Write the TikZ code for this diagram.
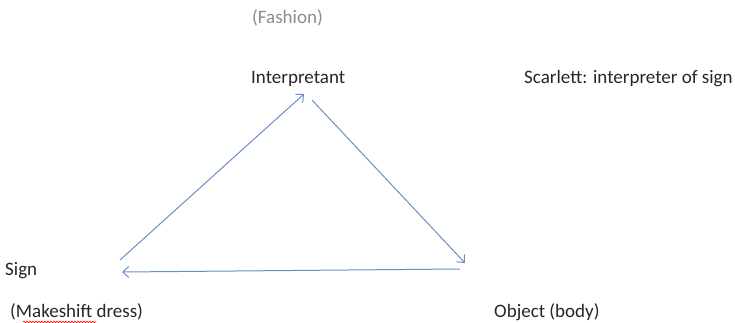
\documentclass[tikz,border=0pt]{standalone}
\usepackage{fontspec}
\setmainfont{Carlito}
\usetikzlibrary{arrows.meta,decorations.pathmorphing}
\definecolor{txt}{HTML}{262626}
\definecolor{grey}{HTML}{8C8C8C}
\definecolor{arr}{HTML}{6A8FC4}
\tikzset{
  lbl/.style={inner sep=0pt, anchor=west, text=txt, font=\fontsize{19}{23}\selectfont},
  conn/.style={draw=arr, line width=1pt, -{Straight Barb[length=6pt,width=11pt,line width=1pt]}},
}
\begin{document}
\begin{tikzpicture}[x=1pt,y=-1pt]
\useasboundingbox (0,0) rectangle (735,323);
\node[lbl, text=grey] (fashion) at (252,18) {(Fashion)};
\node[lbl] (interp) at (251,79) {Interpretant};
\node[lbl] (scarlett) at (524,79) {Scarlett: interpreter of sign};
\node[lbl] (sign) at (5,271) {Sign};
\node[lbl] (dress) at (10,312) {(Makeshift dress)};
\node[lbl] (object) at (494,312) {Object (body)};
% wavy spell-check underline
\coordinate (wl) at (23,322);
\coordinate (wr) at (96,322);
\draw[red, line width=0.6pt, decorate, decoration={snake, amplitude=0.8pt, segment length=3pt}] (wl) -- (wr);
% triangle corners
\coordinate (s1) at (120,260);
\coordinate (i1) at (304,94);
\coordinate (i2) at (312,100);
\coordinate (o1) at (465,263);
\coordinate (o2) at (460,269);
\coordinate (s2) at (122,272);
\draw[conn] (s1) -- (i1);
\draw[conn] (i2) -- (o1);
\draw[conn] (o2) -- (s2);
\end{tikzpicture}
\end{document}
